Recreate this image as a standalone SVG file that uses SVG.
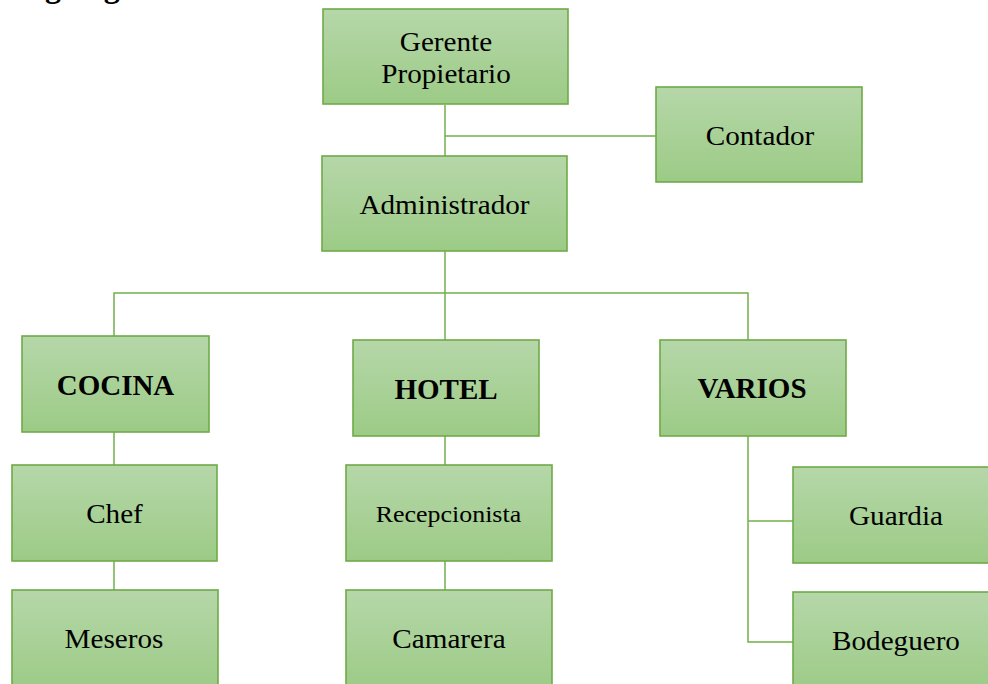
<svg xmlns="http://www.w3.org/2000/svg" width="988" height="684" viewBox="0 0 988 684">
  <defs>
    <linearGradient id="boxFill" x1="0" y1="0" x2="0" y2="1">
      <stop offset="0" stop-color="#b6d7a9"/>
      <stop offset="1" stop-color="#9ccb86"/>
    </linearGradient>
    <style>
      .box { fill: url(#boxFill); stroke: #6eab46; stroke-width: 1.6; }
      .lbl { font-family: "Liberation Serif", "Times New Roman", serif; font-size: 27px; fill: #000; text-anchor: middle; }
      .bold { font-weight: bold; font-size: 29px; }
      .small { font-size: 24px; }
      .conn { fill: none; stroke: #72b04c; stroke-width: 1.5; }
      .title { font-family: "Liberation Serif", "Times New Roman", serif; font-size: 32px; font-weight: bold; fill: #000; }
    </style>
  </defs>
  <rect width="988" height="684" fill="#ffffff"/>

  <!-- page heading, running off the top edge -->
  <text class="title" x="6" y="-3">Organigrama</text>

  <g id="connectors">
    <path class="conn" d="M445 105 V156"/>
    <path class="conn" d="M445 136 H656"/>
    <path class="conn" d="M445 251 V340"/>
    <path class="conn" d="M114 336 V293 H748 V340"/>
    <path class="conn" d="M114 432 V465"/>
    <path class="conn" d="M114 561 V590"/>
    <path class="conn" d="M445 436 V465"/>
    <path class="conn" d="M445 561 V590"/>
    <path class="conn" d="M748 436 V642 H793"/>
    <path class="conn" d="M748 521 H793"/>
  </g>

  <!-- regular labels are set slightly wide: scale(1.08,1) about their anchor -->
  <g id="gerente">
    <rect class="box" x="323" y="9" width="245" height="95"/>
    <text class="lbl" transform="translate(446 51) scale(1.08 1)">Gerente</text>
    <text class="lbl" transform="translate(446 83) scale(1.08 1)">Propietario</text>
  </g>
  <g id="contador">
    <rect class="box" x="656" y="87" width="206" height="95"/>
    <text class="lbl" transform="translate(760 145) scale(1.08 1)">Contador</text>
  </g>
  <g id="administrador">
    <rect class="box" x="322" y="156" width="245" height="95"/>
    <text class="lbl" transform="translate(444.5 214) scale(1.08 1)">Administrador</text>
  </g>
  <g id="cocina">
    <rect class="box" x="22" y="336" width="187" height="96"/>
    <text class="lbl bold" x="115.5" y="395">COCINA</text>
  </g>
  <g id="hotel">
    <rect class="box" x="353" y="340" width="186" height="96"/>
    <text class="lbl bold" x="446" y="399">HOTEL</text>
  </g>
  <g id="varios">
    <rect class="box" x="660" y="340" width="186" height="96"/>
    <text class="lbl bold" x="752" y="398">VARIOS</text>
  </g>
  <g id="chef">
    <rect class="box" x="12" y="465" width="205" height="96"/>
    <text class="lbl" transform="translate(114.5 523) scale(1.08 1)">Chef</text>
  </g>
  <g id="meseros">
    <rect class="box" x="12" y="590" width="206" height="100"/>
    <text class="lbl" transform="translate(114 648) scale(1.08 1)">Meseros</text>
  </g>
  <g id="recepcionista">
    <rect class="box" x="346" y="465" width="206" height="96"/>
    <text class="lbl small" transform="translate(448.5 522) scale(1.08 1)">Recepcionista</text>
  </g>
  <g id="camarera">
    <rect class="box" x="346" y="590" width="206" height="100"/>
    <text class="lbl" transform="translate(449 648) scale(1.08 1)">Camarera</text>
  </g>
  <g id="guardia">
    <rect class="box" x="793" y="467" width="206" height="96"/>
    <text class="lbl" transform="translate(896 525) scale(1.08 1)">Guardia</text>
  </g>
  <g id="bodeguero">
    <rect class="box" x="793" y="592" width="206" height="100"/>
    <text class="lbl" transform="translate(896 650) scale(1.08 1)">Bodeguero</text>
  </g>
</svg>
